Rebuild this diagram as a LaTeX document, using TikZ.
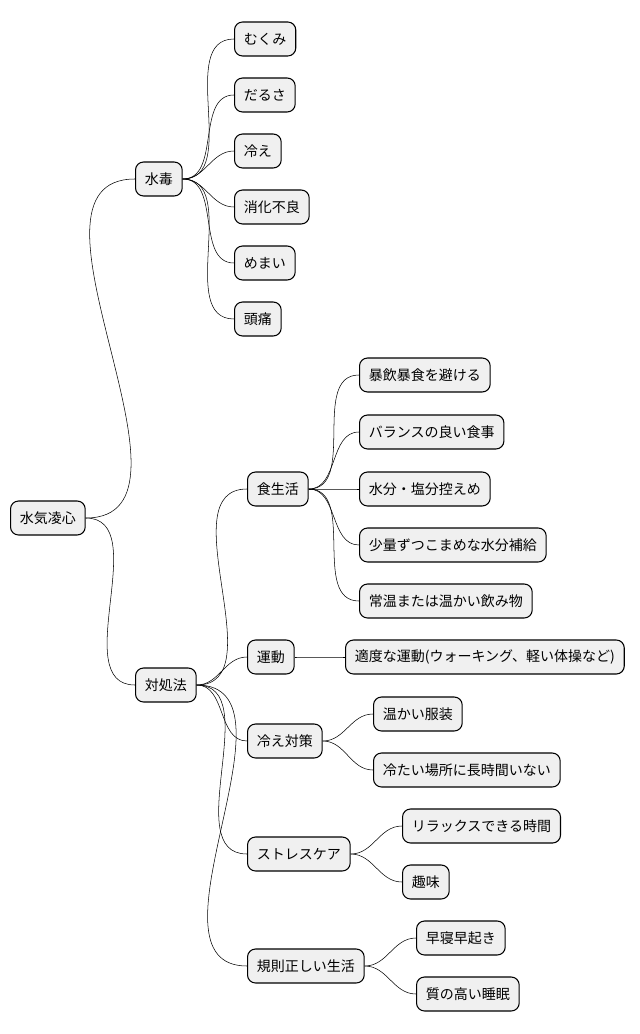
\documentclass[tikz,border=0pt]{standalone}
\usepackage{fontspec}
\newfontfamily\cjk{Noto Sans CJK JP}
\usetikzlibrary{positioning}
\tikzset{
    topic/.style={
        rectangle, rounded corners=6pt,
        draw, thick, fill=black!6,
        minimum height=25.5pt, inner xsep=7pt,
        anchor=west, font=\cjk\fontsize{10.5}{12}\selectfont
    },
    link/.style={draw, line width=0.6pt, out=0, in=180}
}
\begin{document}
\begin{tikzpicture}[x=0.75pt, y=-0.75pt]
    \useasboundingbox (0,0) rectangle (639,1034);

    % Root
    \node[topic] (root) at (10,518) {水気凌心};

    % Branches
    \node[topic] (doku) at (135,179) {水毒};
    \node[topic] (taisho) at (135,685) {対処法};

    % Leaves of 水毒
    \node[topic] (d1) at (234,39) {むくみ};
    \node[topic] (d2) at (234,95) {だるさ};
    \node[topic] (d3) at (234,151) {冷え};
    \node[topic] (d4) at (234,207) {消化不良};
    \node[topic] (d5) at (234,263) {めまい};
    \node[topic] (d6) at (234,319) {頭痛};

    % Sub-branches of 対処法
    \node[topic] (shoku) at (247,489) {食生活};
    \node[topic] (undo) at (247,657) {運動};
    \node[topic] (hie) at (247,741) {冷え対策};
    \node[topic] (stress) at (247,854) {ストレスケア};
    \node[topic] (kisoku) at (247,966) {規則正しい生活};

    \node[topic] (s1) at (359,375) {暴飲暴食を避ける};
    \node[topic] (s2) at (359,432) {バランスの良い食事};
    \node[topic] (s3) at (359,489) {水分・塩分控えめ};
    \node[topic] (s4) at (359,545) {少量ずつこまめな水分補給};
    \node[topic] (s5) at (359,601) {常温または温かい飲み物};

    \node[topic] (u1) at (345,657) {適度な運動(ウォーキング、軽い体操など)};

    \node[topic] (h1) at (373,714) {温かい服装};
    \node[topic] (h2) at (373,770) {冷たい場所に長時間いない};

    \node[topic] (t1) at (402,826) {リラックスできる時間};
    \node[topic] (t2) at (402,882) {趣味};

    \node[topic] (k1) at (416,938) {早寝早起き};
    \node[topic] (k2) at (416,994) {質の高い睡眠};

    % Connectors
    \foreach \p/\c in {root/doku, root/taisho,
        doku/d1, doku/d2, doku/d3, doku/d4, doku/d5, doku/d6,
        taisho/shoku, taisho/undo, taisho/hie, taisho/stress, taisho/kisoku,
        shoku/s1, shoku/s2, shoku/s3, shoku/s4, shoku/s5,
        undo/u1, hie/h1, hie/h2, stress/t1, stress/t2, kisoku/k1, kisoku/k2}
        \draw (\p.east) to[link] (\c.west);

\end{tikzpicture}
\end{document}
